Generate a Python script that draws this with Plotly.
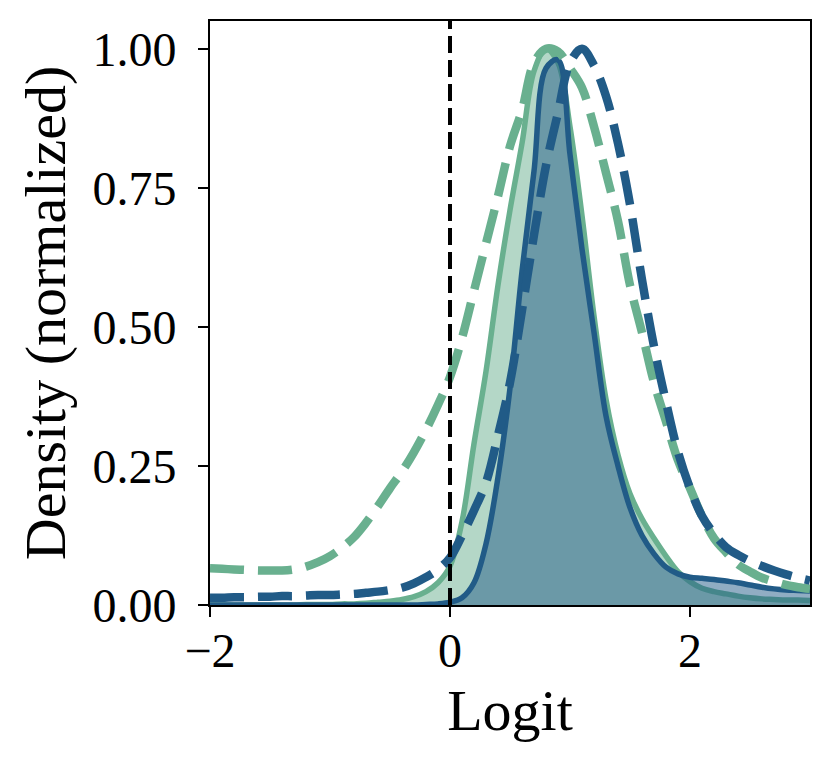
import plotly.graph_objects as go

# shared logit grid (step 0.1) and normalized densities
logit = [round(-2.0 + 0.1 * i, 1) for i in range(51)]

# solid, filled (green)
green_solid = [0.000, 0.000, 0.000, 0.000, 0.000, 0.000, 0.000, 0.000, 0.001, 0.001,
               0.001, 0.002, 0.002, 0.003, 0.005, 0.007, 0.010, 0.015, 0.024, 0.040,
               0.070, 0.150, 0.290, 0.420, 0.575, 0.710, 0.830, 0.960, 1.000, 0.975,
               0.860, 0.700, 0.520, 0.370, 0.270, 0.200, 0.155, 0.120, 0.088, 0.060,
               0.042, 0.030, 0.024, 0.020, 0.016, 0.013, 0.011, 0.010, 0.009, 0.009,
               0.008]
# solid, filled (blue)
blue_solid = [0.000, 0.000, 0.000, 0.000, 0.000, 0.000, 0.000, 0.000, 0.000, 0.000,
              0.000, 0.000, 0.000, 0.000, 0.000, 0.000, 0.000, 0.000, 0.001, 0.002,
              0.005, 0.013, 0.040, 0.110, 0.230, 0.390, 0.600, 0.780, 0.965, 0.980,
              0.810, 0.640, 0.490, 0.340, 0.250, 0.175, 0.125, 0.092, 0.068, 0.056,
              0.050, 0.048, 0.046, 0.043, 0.040, 0.036, 0.032, 0.029, 0.027, 0.026,
              0.025]
# dashed (green)
green_dash = [0.066, 0.065, 0.064, 0.063, 0.062, 0.062, 0.062, 0.064, 0.069, 0.077,
              0.088, 0.103, 0.122, 0.148, 0.178, 0.210, 0.240, 0.275, 0.315, 0.360,
              0.410, 0.480, 0.565, 0.650, 0.735, 0.825, 0.890, 0.975, 1.000, 0.995,
              0.965, 0.930, 0.860, 0.777, 0.690, 0.575, 0.490, 0.400, 0.330, 0.260,
              0.210, 0.160, 0.120, 0.095, 0.073, 0.060, 0.049, 0.042, 0.036, 0.032,
              0.029]
# dashed (blue)
blue_dash = [0.013, 0.013, 0.014, 0.014, 0.015, 0.015, 0.016, 0.016, 0.017, 0.018,
             0.018, 0.019, 0.020, 0.022, 0.024, 0.027, 0.031, 0.039, 0.050, 0.064,
             0.085, 0.125, 0.170, 0.220, 0.305, 0.400, 0.530, 0.665, 0.790, 0.885,
             0.975, 1.000, 0.970, 0.915, 0.830, 0.720, 0.585, 0.465, 0.365, 0.275,
             0.210, 0.160, 0.128, 0.104, 0.090, 0.079, 0.070, 0.062, 0.055, 0.049,
             0.044]

GREEN = "#69b08f"
BLUE = "#215b87"
FONT = "Liberation Serif"

fig = go.Figure()
fig.add_trace(go.Scatter(x=logit, y=green_solid, mode="lines", line_shape="spline",
                         line=dict(color=GREEN, width=5.5), fill="tozeroy",
                         fillcolor="rgba(105,176,143,0.5)", showlegend=False))
fig.add_trace(go.Scatter(x=logit, y=blue_solid, mode="lines", line_shape="spline",
                         line=dict(color=BLUE, width=5.5), fill="tozeroy",
                         fillcolor="rgba(33,91,135,0.5)", showlegend=False))
fig.add_trace(go.Scatter(x=logit, y=green_dash, mode="lines", line_shape="spline",
                         line=dict(color=GREEN, width=8.5, dash="34px,14px"),
                         showlegend=False))
fig.add_trace(go.Scatter(x=logit, y=blue_dash, mode="lines", line_shape="spline",
                         line=dict(color=BLUE, width=8.5, dash="34px,14px"),
                         showlegend=False))

# decision boundary
fig.add_shape(type="line", x0=0, x1=0, y0=0, y1=1, xref="x", yref="paper",
              line=dict(color="black", width=4, dash="17px,7px"))

# page body adds an 8px offset, so the figure is sized to fit inside the window
fig.update_layout(
    width=823, height=764,
    margin=dict(l=202, r=21, t=13, b=167),
    plot_bgcolor="white", paper_bgcolor="white",
    font=dict(family=FONT, color="black", size=48),
)
fig.update_xaxes(range=[-2, 3], tickvals=[-2, 0, 2], ticktext=["\u22122", "0", "2"],
                 showgrid=False, zeroline=False, showline=True, mirror=True,
                 linecolor="black", linewidth=2, ticks="outside", ticklen=10,
                 tickwidth=2, tickcolor="black", tickfont=dict(size=48),
                 ticklabelstandoff=-8,
                 title=dict(text="Logit", font=dict(size=58), standoff=14))
fig.update_yaxes(range=[0, 1.05], tickvals=[0, 0.25, 0.5, 0.75, 1.0],
                 tickformat=".2f", showgrid=False, zeroline=False, showline=True,
                 mirror=True, linecolor="black", linewidth=2, ticks="outside",
                 ticklen=10, tickwidth=2, tickcolor="black", tickfont=dict(size=48),
                 ticklabelstandoff=12,
                 title=dict(text="Density (normalized)", font=dict(size=58), standoff=8))

fig.write_html("out.html")
